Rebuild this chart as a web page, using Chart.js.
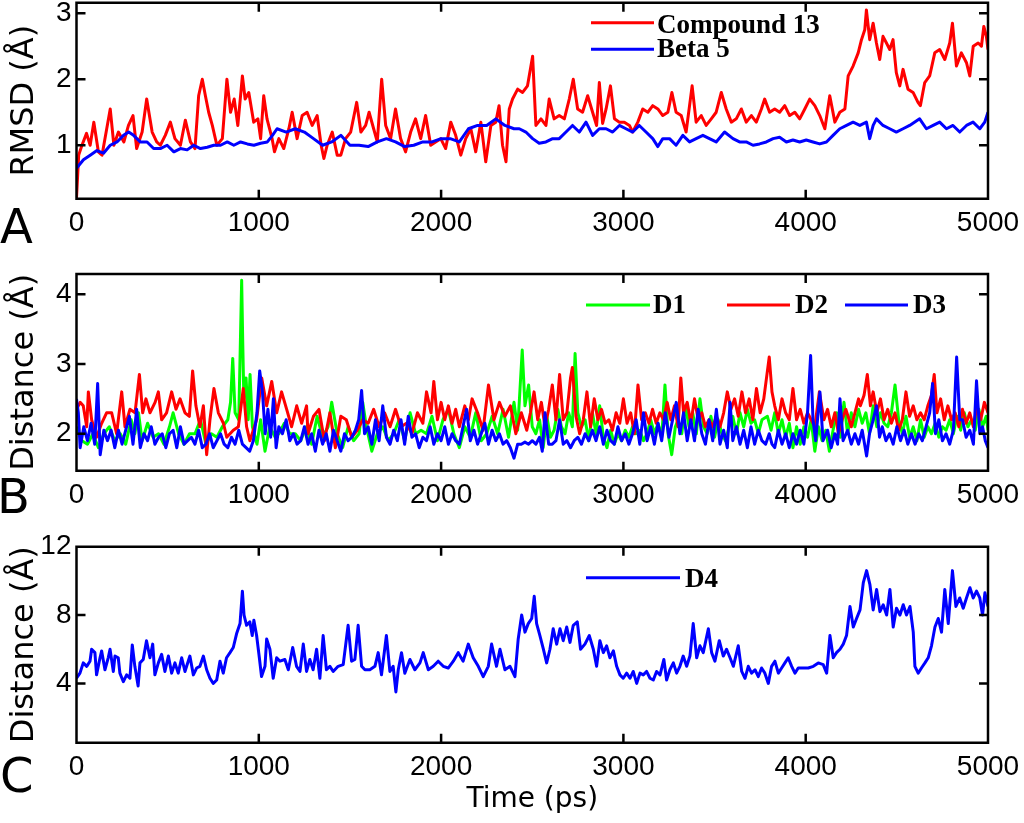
<!DOCTYPE html>
<html lang="en">

<head>
    <meta charset="UTF-8">
    <title>RMSD e distâncias</title>
    <script src="https://cdn.jsdelivr.net/npm/chart.js"></script>
    <style>
        body {
            margin: 0;
            background: #fff;
        }

        .janela {
            position: relative;
            width: 1024px;
            height: 823px;
            overflow: hidden;
        }

        .janela canvas {
            position: absolute;
            left: 0;
        }

        .letra {
            position: absolute;
            font-family: "DejaVu Sans", sans-serif;
            font-size: 48px;
            line-height: 48px;
            color: #000;
        }
    </style>
</head>

<body>

    <div class="janela">
        <canvas id="graficoA" width="1024" height="250" style="top: 0px;"></canvas>
        <canvas id="graficoB" width="1024" height="280" style="top: 250px;"></canvas>
        <canvas id="graficoC" width="1024" height="293" style="top: 530px;"></canvas>

        <div class="letra" style="left: 0px; top: 202px;">A</div>
        <div class="letra" style="left: -3px; top: 472px;">B</div>
        <div class="letra" style="left: 0px; top: 751px;">C</div>
    </div>

</body>

<script>

    // eixos
    const ticksTempo = [0, 1000, 2000, 3000, 4000, 5000];
    const ticksRmsd = [1, 2, 3];
    const ticksDistB = [2, 3, 4];
    const ticksDistC = [4, 8, 12];

    // painel A - RMSD
    const tempoComposto = [
        0, 12, 30, 55, 75, 95, 120, 140, 185, 205, 230, 260, 285, 310, 330, 360, 385, 415, 440, 460, 487,
        515, 540, 570, 597, 625, 650, 670, 690, 707, 725, 745, 770, 800, 825, 845, 865, 885, 910, 925, 945, 972, 995,
        1010, 1027, 1045, 1073, 1086, 1110, 1137, 1165, 1183, 1210, 1238, 1265, 1293, 1320, 1342, 1357, 1375, 1403, 1430, 1450, 1476,
        1504, 1537, 1560, 1586, 1605, 1630, 1650, 1674, 1696, 1723, 1750, 1778, 1805, 1833, 1860, 1888, 1915, 1943, 1970, 1998,
        2025, 2053, 2080, 2108, 2135, 2163, 2190, 2218, 2245, 2273, 2300, 2318, 2337, 2356, 2374, 2392, 2420, 2447, 2474,
        2502, 2520, 2548, 2575, 2593, 2620, 2648, 2676, 2703, 2725, 2749, 2776, 2804, 2831, 2853, 2868, 2886, 2905, 2929, 2951, 2978,
        3005, 3033, 3051, 3079, 3106, 3134, 3161, 3189, 3216, 3244, 3266, 3289, 3317, 3344, 3377, 3399, 3427, 3454, 3482,
        3509, 3537, 3564, 3592, 3619, 3647, 3674, 3702, 3729, 3757, 3775, 3802, 3830, 3857, 3885, 3912, 3940, 3967, 3995,
        4022, 4050, 4077, 4105, 4132, 4160, 4187, 4215, 4233, 4260, 4288, 4306, 4324, 4333, 4351, 4370, 4388, 4406, 4424, 4443, 4461, 4479, 4497,
        4516, 4534, 4561, 4589, 4616, 4629, 4653, 4680, 4708, 4735, 4763, 4790, 4805, 4827, 4854, 4882, 4900, 4919, 4946, 4964, 4977, 4991, 5000
    ];
    const rmsdComposto = [
        0.2, 0.85, 1.0, 1.18, 1.0, 1.35, 0.9, 0.85, 1.55, 1.0, 1.2, 1.05, 1.3, 1.45, 0.95, 1.2, 1.7, 1.2, 1.05, 1.0, 1.15,
        1.35, 1.1, 1.0, 1.38, 1.05, 0.95, 1.75, 2.0, 1.75, 1.5, 1.3, 1.0, 1.1, 2.0, 1.5, 1.7, 1.3, 2.05, 1.7, 1.8, 1.35, 1.4,
        1.1, 1.75, 1.4, 1.1, 0.9, 1.1, 0.95, 1.25, 1.5, 1.1, 1.45, 1.5, 1.3, 1.45, 1.0, 0.8, 1.0, 1.2, 0.85, 0.85, 1.1,
        1.2, 1.65, 1.2, 1.3, 1.5, 1.25, 1.05, 2.0, 1.3, 1.1, 1.55, 1.1, 0.9, 1.2, 1.4, 1.1, 1.45, 1.0, 1.05, 1.1,
        0.95, 1.35, 1.15, 0.85, 1.1, 1.25, 0.9, 1.35, 0.75, 1.3, 1.35, 1.6, 1.0, 0.75, 1.55, 1.7, 1.85, 1.8, 1.9,
        2.35, 1.3, 1.4, 1.3, 1.7, 1.4, 1.45, 1.4, 1.7, 2.0, 1.55, 1.5, 1.75, 1.5, 1.3, 1.95, 1.33, 1.55, 1.9, 1.4, 1.35,
        1.35, 1.3, 1.2, 1.35, 1.55, 1.5, 1.6, 1.55, 1.45, 1.5, 1.8, 1.5, 1.45, 1.2, 1.9, 1.35, 1.45, 1.3, 1.4,
        1.5, 1.8, 1.55, 1.35, 1.4, 1.55, 1.35, 1.45, 1.35, 1.55, 1.7, 1.5, 1.55, 1.5, 1.6, 1.45, 1.5, 1.4, 1.55,
        1.7, 1.6, 1.45, 1.25, 1.75, 1.35, 1.5, 1.55, 2.05, 2.2, 2.4, 2.6, 2.75, 3.05, 2.6, 2.85, 2.55, 2.3, 2.65, 2.55, 2.45, 2.6, 2.1,
        1.9, 2.15, 1.85, 1.8, 1.65, 1.6, 1.95, 2.05, 2.4, 2.45, 2.3, 2.55, 2.85, 2.2, 2.4, 2.25, 2.05, 2.5, 2.55, 2.5, 2.8, 2.65, 2.45
    ];

    const tempoBeta = [
        0, 38, 75, 112, 148, 185, 222, 258, 286, 313, 350, 387, 423, 460, 497,
        534, 570, 607, 643, 680, 717, 753, 790, 827, 863, 900, 937, 973,
        1010, 1047, 1075, 1100, 1150, 1200, 1250, 1300, 1350, 1400, 1450, 1500,
        1550, 1600, 1650, 1700, 1750, 1800, 1850, 1900, 1950, 2000,
        2050, 2100, 2150, 2200, 2250, 2300, 2350, 2400, 2429, 2465,
        2502, 2538, 2575, 2612, 2648, 2685, 2721, 2758, 2795, 2831, 2868, 2905, 2941, 2978,
        3014, 3051, 3087, 3124, 3161, 3189, 3216, 3253, 3289, 3326, 3363, 3399, 3436, 3472,
        3509, 3555, 3601, 3637, 3674, 3711, 3747, 3784, 3821, 3857, 3894, 3930, 3967,
        4003, 4040, 4077, 4114, 4150, 4187, 4224, 4260, 4297, 4333, 4351, 4370, 4388, 4424, 4461, 4497,
        4534, 4570, 4625, 4662, 4699, 4735, 4772, 4808, 4845, 4882, 4918, 4955, 4982, 5000
    ];
    const rmsdBeta = [
        0.65, 0.78, 0.85, 0.92, 0.88, 1.0, 1.05, 1.15, 1.2, 1.15, 1.05, 1.05, 0.95, 0.95, 1.0,
        0.9, 0.95, 0.93, 1.0, 0.95, 0.97, 1.0, 1.0, 1.05, 1.0, 1.05, 1.02, 1.0,
        1.03, 1.05, 1.15, 1.25, 1.2, 1.25, 1.2, 1.1, 1.0, 1.05, 1.15, 1.0,
        1.0, 0.98, 1.05, 1.1, 1.05, 0.98, 1.0, 1.05, 1.05, 1.1,
        1.1, 1.05, 1.25, 1.3, 1.3, 1.4, 1.3, 1.25, 1.25, 1.2,
        1.1, 1.03, 1.05, 1.1, 1.1, 1.2, 1.3, 1.2, 1.35, 1.15, 1.25, 1.25, 1.2, 1.3,
        1.25, 1.2, 1.3, 1.2, 1.1, 0.98, 1.1, 1.1, 1.0, 1.15, 1.05, 1.1, 1.15, 1.1,
        1.05, 1.2, 1.1, 1.05, 1.05, 1.0, 1.02, 1.05, 1.1, 1.12, 1.05, 1.08, 1.05,
        1.08, 1.05, 1.02, 1.05, 1.15, 1.25, 1.3, 1.35, 1.3, 1.35, 1.1, 1.3, 1.4, 1.3, 1.25, 1.2,
        1.25, 1.3, 1.4, 1.25, 1.3, 1.35, 1.25, 1.3, 1.2, 1.3, 1.35, 1.25, 1.35, 1.5
    ];

    // painel B - distâncias D1, D2, D3
    const tempoD1 = [
        0, 30, 60, 90, 120, 150, 180, 210, 240, 270, 300, 320, 340, 360, 390, 420, 450, 480,
        510, 530, 560, 590, 620, 650, 680, 710, 740, 770, 800, 830, 845, 857, 870, 890, 906, 912, 918, 930, 942, 952, 965, 990,
        1010, 1034, 1060, 1090, 1110, 1140, 1170, 1200, 1230, 1260, 1290, 1320, 1350, 1380, 1400, 1430, 1460, 1490,
        1520, 1550, 1570, 1590, 1620, 1650, 1680, 1710, 1740, 1770, 1800, 1830, 1860, 1890, 1920, 1950, 1980,
        2010, 2040, 2070, 2100, 2130, 2160, 2190, 2220, 2250, 2280, 2310, 2340, 2370, 2400, 2420, 2445, 2460, 2480,
        2500, 2520, 2540, 2560, 2580, 2600, 2620, 2640, 2660, 2680, 2700, 2720, 2735, 2750, 2770, 2790, 2810, 2830, 2850, 2870, 2890, 2910, 2930, 2950, 2970, 2990,
        3010, 3030, 3050, 3070, 3090, 3110, 3130, 3150, 3170, 3190, 3210, 3228, 3245, 3265, 3285, 3300, 3320, 3340, 3360, 3380, 3400, 3420, 3440, 3460, 3480,
        3500, 3520, 3540, 3560, 3580, 3600, 3620, 3640, 3660, 3680, 3700, 3720, 3740, 3760, 3790, 3810, 3830, 3850, 3870, 3890, 3910, 3930, 3950, 3970, 3990,
        4010, 4030, 4050, 4070, 4090, 4110, 4130, 4150, 4170, 4190, 4210, 4230, 4250, 4270, 4290, 4310, 4330, 4350, 4370, 4390, 4410, 4430, 4450, 4470, 4490,
        4510, 4530, 4550, 4570, 4590, 4610, 4630, 4650, 4670, 4690, 4710, 4730, 4750, 4770, 4790, 4810, 4830, 4850, 4870, 4890, 4910, 4930, 4950, 4970, 4990, 5000
    ];
    const distD1 = [
        2.1, 1.9, 1.85, 2.0, 1.8, 2.0, 2.1, 1.9, 2.0, 1.85, 2.2, 2.0, 2.3, 1.9, 2.15, 1.95, 2.0, 1.85,
        2.1, 2.3, 2.0, 1.85, 2.0, 2.0, 2.2, 1.85, 2.0, 1.95, 2.1, 2.2, 2.45, 3.08, 2.3, 2.2, 4.2, 3.3, 2.5, 2.8, 2.2, 2.85, 2.1, 1.85,
        2.2, 1.75, 2.1, 1.95, 2.0, 2.15, 2.0, 2.0, 1.9, 2.1, 1.85, 2.25, 1.95, 2.1, 2.45, 2.0, 1.8, 2.1,
        1.9, 2.0, 2.45, 2.1, 1.75, 2.0, 2.1, 1.9, 2.0, 2.2, 1.9, 2.3, 2.0, 2.05, 2.0, 2.25, 1.9,
        2.2, 2.35, 2.0, 1.8, 2.1, 1.95, 2.3, 1.9, 2.0, 2.25, 2.0, 2.35, 1.95, 2.45, 2.05, 3.2, 2.4, 2.7,
        2.1, 2.0, 2.2, 1.8, 2.25, 1.95, 2.05, 2.35, 2.1, 2.0, 2.3, 2.1, 3.15, 2.3, 2.1, 2.2, 1.9, 2.3, 2.0, 2.4, 1.95, 1.8, 2.05, 1.85, 2.0, 1.9,
        2.05, 1.95, 2.1, 2.0, 2.05, 1.9, 2.0, 2.2, 2.0, 2.15, 1.95, 2.7, 2.0, 1.7, 2.1, 2.2, 2.0, 2.4, 2.1, 2.3, 2.0, 2.5, 2.1, 2.0, 2.25,
        1.95, 2.2, 2.0, 1.9, 2.1, 2.25, 2.0, 2.3, 2.1, 2.35, 2.15, 2.2, 2.0, 2.2, 2.25, 2.05, 2.3, 2.0, 2.2, 1.95, 2.15, 1.8, 2.1, 1.85, 2.1,
        1.95, 2.2, 1.75, 2.1, 1.9, 2.05, 1.75, 2.05, 2.3, 1.95, 2.45, 2.0, 2.3, 2.1, 2.35, 2.15, 2.3, 2.0, 2.4, 2.1, 2.3, 2.15, 2.1, 2.3, 2.7,
        2.2, 2.0, 2.25, 1.95, 2.1, 1.9, 2.2, 1.95, 2.1, 2.0, 2.15, 1.95, 2.1, 2.05, 2.2, 2.0, 2.25, 2.05, 2.3, 2.1, 2.2, 2.05, 2.35, 2.1, 2.25, 2.05
    ];

    const tempoD2 = [
        0, 20, 37, 56, 65, 83, 110, 138, 165, 193, 220, 248, 266, 293, 321, 345, 363, 381, 403, 431, 449, 467, 494,
        522, 546, 568, 595, 619, 637, 655, 677, 696, 714, 732, 754, 778, 806, 824, 860, 888, 915, 933, 951, 988,
        1016, 1043, 1071, 1098, 1125, 1153, 1180, 1208, 1235, 1262, 1270, 1300, 1330, 1360, 1390, 1420, 1450, 1480,
        1510, 1540, 1570, 1600, 1630, 1660, 1690, 1720, 1750, 1780, 1810, 1840, 1870, 1900, 1920, 1945, 1960, 1980,
        2000, 2020, 2040, 2060, 2080, 2100, 2130, 2150, 2170, 2200, 2230, 2260, 2290, 2320, 2350, 2380, 2410, 2440, 2470,
        2490, 2510, 2530, 2550, 2570, 2590, 2610, 2630, 2650, 2670, 2690, 2710, 2720, 2740, 2760, 2780, 2800, 2820, 2840, 2860, 2880, 2900, 2920, 2940, 2960, 2980,
        3000, 3020, 3040, 3060, 3080, 3100, 3120, 3140, 3160, 3180, 3200, 3220, 3240, 3260, 3280, 3300, 3315, 3330, 3350, 3370, 3390, 3410, 3430, 3450, 3470, 3490,
        3510, 3530, 3550, 3570, 3590, 3610, 3630, 3650, 3670, 3690, 3710, 3730, 3750, 3770, 3785, 3800, 3815, 3830, 3850, 3870, 3890, 3910, 3930, 3950, 3970, 3990,
        4010, 4030, 4050, 4075, 4100, 4120, 4140, 4160, 4180, 4200, 4220, 4250, 4270, 4290, 4300, 4320, 4338, 4355, 4370, 4390, 4410, 4430, 4450, 4470, 4490,
        4510, 4530, 4550, 4570, 4590, 4610, 4630, 4650, 4670, 4690, 4705, 4720, 4740, 4760, 4780, 4800, 4820, 4840, 4860, 4880, 4900, 4920, 4940, 4960, 4980, 5000
    ];
    const distD2 = [
        2.35, 2.45, 2.4, 2.1, 2.6, 2.2, 1.95, 2.15, 2.3, 2.3, 2.0, 2.6, 2.1, 2.35, 2.3, 2.85, 2.3, 2.5, 2.3, 2.45, 2.6, 2.2, 2.3,
        2.6, 2.35, 2.5, 2.3, 2.25, 2.9, 2.4, 2.1, 2.4, 1.7, 2.2, 2.65, 2.3, 2.15, 1.95, 2.05, 2.1, 2.65, 2.1, 1.9, 2.2,
        2.8, 2.4, 2.75, 2.3, 2.6, 2.35, 2.1, 2.4, 2.15, 2.4, 2.0, 2.25, 2.35, 1.9, 2.3, 1.8, 2.25, 2.2,
        1.95, 2.05, 2.2, 2.15, 2.35, 2.1, 2.3, 2.1, 2.35, 2.1, 2.15, 2.0, 2.3, 2.15, 2.6, 2.3, 2.75, 2.2,
        2.45, 2.2, 2.4, 2.15, 2.35, 2.1, 2.4, 2.2, 2.5, 2.3, 2.05, 2.7, 2.2, 2.45, 2.25, 2.4, 2.0, 2.3, 2.05,
        2.3, 2.6, 2.2, 2.45, 2.1, 2.35, 2.7, 2.2, 2.85, 2.2, 2.3, 2.8, 2.95, 2.25, 2.0, 2.2, 2.6, 2.1, 2.5, 2.2, 2.35, 2.15, 2.2, 2.05, 2.3, 2.15,
        2.5, 2.15, 2.3, 2.0, 2.7, 2.2, 2.3, 2.15, 2.35, 2.15, 2.3, 2.2, 2.45, 2.2, 2.4, 2.1, 2.8, 2.3, 2.45, 2.15, 2.5, 2.2, 2.3, 2.1, 2.2, 2.1,
        2.25, 2.1, 2.3, 2.6, 2.35, 2.5, 2.25, 2.6, 2.3, 2.5, 2.2, 2.65, 2.3, 2.5, 2.8, 3.1, 2.6, 2.4, 2.2, 2.5, 2.3, 2.2, 2.65, 2.2, 2.35, 2.15,
        2.3, 2.2, 2.1, 2.6, 2.2, 2.35, 2.1, 2.3, 2.0, 2.2, 2.35, 2.1, 2.3, 2.5, 2.4, 2.55, 2.85, 2.4, 2.6, 2.3, 2.5, 2.2, 2.35, 2.15, 2.3,
        2.05, 2.2, 2.6, 2.25, 2.4, 2.2, 2.3, 2.2, 2.4, 2.55, 2.85, 2.3, 2.5, 2.2, 2.4, 2.2, 2.3, 2.1, 2.35, 2.15, 2.3, 2.1, 2.4, 2.2, 2.45, 2.3
    ];

    const tempoD3 = [
        0, 10, 20, 40, 60, 80, 100, 116, 130, 150, 170, 190, 210, 230, 250, 270, 290, 310, 330, 350, 370, 390, 410, 430, 450, 470, 490,
        510, 530, 550, 570, 590, 610, 630, 650, 670, 690, 710, 730, 750, 770, 790, 810, 830, 850, 870, 890, 910, 930, 950, 970, 990,
        1005, 1020, 1035, 1050, 1065, 1080, 1095, 1110, 1130, 1150, 1170, 1190, 1210, 1230, 1250, 1270, 1290, 1310, 1330, 1350, 1370, 1390, 1410, 1430, 1450, 1470, 1490,
        1510, 1530, 1548, 1564, 1580, 1600, 1620, 1640, 1660, 1680, 1700, 1720, 1740, 1760, 1780, 1800, 1820, 1840, 1860, 1880, 1900, 1920, 1940, 1960, 1980,
        2000, 2020, 2040, 2060, 2080, 2100, 2120, 2140, 2160, 2180, 2200, 2220, 2240, 2260, 2280, 2300, 2320, 2340, 2360, 2380, 2400, 2420, 2440, 2460, 2480,
        2500, 2520, 2540, 2555, 2570, 2590, 2610, 2630, 2650, 2670, 2690, 2710, 2730, 2750, 2770, 2790, 2810, 2830, 2850, 2870, 2890, 2910, 2930, 2950, 2970, 2990,
        3010, 3030, 3050, 3070, 3090, 3110, 3130, 3150, 3170, 3190, 3210, 3230, 3250, 3270, 3290, 3310, 3330, 3350, 3370, 3390, 3410, 3430, 3450, 3470, 3490,
        3510, 3530, 3550, 3570, 3585, 3600, 3620, 3640, 3660, 3680, 3700, 3720, 3740, 3760, 3780, 3800, 3815, 3830, 3850, 3870, 3890, 3910, 3930, 3950, 3970, 3990,
        4010, 4027, 4040, 4055, 4078, 4095, 4120, 4140, 4160, 4175, 4188, 4205, 4230, 4250, 4270, 4290, 4310, 4334, 4350, 4370, 4389, 4405, 4420, 4440, 4460, 4480,
        4500, 4520, 4540, 4560, 4580, 4600, 4620, 4640, 4660, 4680, 4696, 4712, 4730, 4750, 4770, 4790, 4810, 4828, 4845, 4860, 4880, 4900, 4920, 4937, 4955, 4970, 4985, 5000
    ];
    const distD3 = [
        2.5, 2.3, 1.8, 2.1, 1.9, 2.15, 1.85, 2.72, 1.7, 2.05, 1.9, 2.05, 1.8, 2.05, 1.85, 2.05, 2.25, 1.85, 2.35, 1.8, 2.0, 1.9, 2.1, 1.85, 1.95, 2.0, 1.8,
        2.0, 2.05, 1.8, 2.1, 1.85, 1.9, 1.95, 1.85, 2.05, 1.8, 1.85, 2.0, 1.8, 1.9, 2.0, 1.85, 1.8, 1.95, 1.85, 2.05, 1.85, 1.8, 1.75, 1.9, 2.3,
        2.9, 2.6, 2.0, 2.35, 1.95, 2.5, 1.8, 2.1, 2.0, 2.2, 1.9, 2.0, 1.85, 1.9, 2.1, 1.85, 2.0, 1.75, 2.05, 1.85, 2.0, 1.75, 2.05, 1.9, 1.75, 2.0, 1.9,
        1.95, 2.05, 2.2, 2.62, 2.0, 2.1, 1.85, 2.2, 1.9, 2.4, 1.95, 1.85, 2.05, 1.9, 2.2, 1.85, 2.25, 1.95, 2.0, 1.8, 1.95, 1.9, 2.1, 1.85, 2.0,
        1.9, 2.1, 1.85, 2.0, 1.9, 1.85, 2.1, 2.35, 1.9, 2.05, 1.85, 2.0, 2.15, 1.85, 2.05, 1.9, 2.0, 1.85, 1.9, 1.8, 1.65, 1.85, 1.85, 1.88, 1.85,
        1.9, 1.85, 1.95, 1.75, 2.3, 1.85, 1.85, 1.9, 2.2, 1.85, 1.9, 1.8, 1.9, 1.95, 1.85, 2.0, 1.9, 2.05, 1.9, 2.1, 1.85, 2.05, 1.9, 1.85, 2.1, 1.9,
        2.0, 1.85, 2.0, 2.2, 1.85, 2.3, 1.9, 2.1, 1.85, 2.15, 1.9, 2.3, 1.95, 2.2, 2.45, 2.0, 2.3, 1.9, 2.2, 1.9, 2.35, 2.0, 1.85, 2.2, 1.9,
        2.35, 1.85, 2.05, 1.8, 2.45, 1.9, 2.1, 1.85, 2.05, 1.8, 2.1, 1.85, 2.05, 1.9, 1.85, 2.0, 1.85, 1.8, 2.05, 1.85, 2.0, 1.8, 2.0, 1.85, 2.05, 1.85,
        2.3, 3.12, 2.2, 1.9, 2.6, 1.9, 2.05, 1.8, 2.0, 1.85, 2.5, 1.9, 2.05, 1.85, 2.0, 1.85, 2.05, 1.68, 2.0, 2.2, 2.4, 1.95, 2.1, 1.9, 2.0, 1.85,
        2.1, 1.9, 2.05, 1.85, 2.0, 1.85, 2.0, 1.9, 2.1, 2.3, 2.72, 2.0, 2.2, 1.9, 2.0, 1.85, 2.05, 3.1, 2.2, 2.2, 1.95, 2.05, 1.85, 2.76, 2.0, 2.1, 1.9, 1.8
    ];

    // painel C - distância D4
    const tempoD4 = [
        0, 19, 37, 56, 74, 83, 101, 110, 129, 138, 156, 174, 184, 202, 211, 229, 238, 257, 275, 293, 306, 320, 338, 348, 366, 384, 403, 418, 430, 449, 467, 485,
        504, 522, 540, 558, 577, 595, 622, 641, 659, 677, 696, 714, 732, 750, 769, 787, 805, 823, 842, 860, 878, 897, 910, 919, 933, 951, 964, 973, 988,
        1003, 1015, 1034, 1043, 1061, 1079, 1098, 1116, 1143, 1162, 1186, 1207, 1226, 1244, 1262, 1280, 1298, 1317, 1335, 1353, 1371, 1390, 1408, 1435, 1463, 1490,
        1509, 1527, 1545, 1564, 1582, 1609, 1637, 1655, 1673, 1700, 1719, 1737, 1752, 1765, 1783, 1801, 1829, 1856, 1884, 1902, 1930, 1957, 1984,
        2012, 2039, 2067, 2094, 2121, 2149, 2176, 2204, 2231, 2259, 2277, 2304, 2323, 2350, 2378, 2405, 2423, 2442, 2460, 2478, 2497,
        2511, 2524, 2542, 2561, 2579, 2597, 2615, 2634, 2652, 2670, 2689, 2707, 2725, 2747, 2765, 2789, 2813, 2835, 2853, 2871, 2890, 2908, 2926, 2945, 2963, 2981,
        2999, 3018, 3036, 3054, 3073, 3091, 3109, 3127, 3146, 3164, 3182, 3201, 3222, 3237, 3255, 3274, 3292, 3310, 3328, 3347, 3365, 3383, 3402, 3420, 3438, 3466, 3484,
        3502, 3526, 3548, 3566, 3585, 3603, 3630, 3649, 3667, 3685, 3703, 3722, 3740, 3758, 3776, 3795, 3813, 3831, 3850, 3868, 3886, 3904, 3923, 3941, 3959, 3987,
        4014, 4042, 4069, 4096, 4115, 4133, 4151, 4169, 4188, 4206, 4224, 4243, 4261, 4279, 4298, 4316, 4334, 4352, 4370, 4389, 4407, 4425, 4444, 4462, 4480, 4498,
        4517, 4535, 4553, 4572, 4590, 4599, 4617, 4635, 4654, 4672, 4690, 4709, 4727, 4745, 4763, 4782, 4805, 4824, 4845, 4864, 4882, 4901, 4919, 4937, 4955, 4970, 4983, 5000
    ];
    const distD4 = [
        4.3, 4.6, 5.2, 5.0, 5.3, 6.0, 5.8, 4.5, 5.5, 5.9, 4.8, 5.5, 6.0, 4.7, 5.6, 5.5, 4.6, 4.1, 4.5, 4.3, 6.25, 5.0, 3.85, 5.2, 5.4, 6.5, 5.5, 6.3, 4.5, 5.2, 5.7, 4.7,
        5.6, 4.6, 5.2, 4.6, 5.5, 4.7, 5.6, 4.5, 4.9, 5.0, 5.6, 4.8, 4.3, 4.0, 4.2, 5.3, 4.6, 5.5, 5.8, 6.1, 6.9, 7.5, 9.4, 8.0, 7.4, 7.6, 6.8, 7.7, 6.8,
        5.5, 4.4, 5.0, 6.6, 6.0, 4.3, 5.5, 5.3, 5.4, 4.8, 6.1, 5.0, 4.7, 6.3, 4.7, 5.4, 4.8, 6.0, 4.3, 6.8, 4.8, 5.0, 4.7, 5.0, 5.1, 7.4,
        5.3, 5.4, 7.4, 5.0, 4.8, 4.8, 5.0, 5.8, 4.5, 6.8, 4.7, 5.0, 3.5, 4.8, 5.8, 4.6, 5.4, 4.8, 5.2, 5.8, 4.8, 5.0, 5.3,
        5.0, 4.9, 5.3, 5.8, 5.3, 6.3, 5.5, 5.0, 4.4, 5.0, 6.3, 5.0, 6.0, 4.8, 5.0, 4.4, 6.6, 8.0, 7.0, 7.5, 7.8,
        9.1, 7.5, 6.8, 6.0, 5.2, 6.0, 7.2, 6.3, 7.2, 6.5, 7.3, 6.4, 7.4, 7.6, 6.0, 6.3, 6.8, 6.0, 5.0, 6.5, 5.8, 6.2, 5.5, 5.9, 5.0, 4.5,
        4.3, 4.6, 4.3, 4.7, 4.0, 4.6, 4.5, 4.7, 4.3, 4.2, 4.7, 4.5, 5.4, 4.2, 4.8, 5.2, 4.6, 5.0, 5.6, 5.0, 5.6, 7.5, 5.5, 6.2, 5.8, 7.2, 5.8,
        5.3, 6.5, 5.6, 6.0, 5.5, 5.0, 6.2, 4.7, 4.3, 5.0, 4.6, 4.8, 4.4, 4.9, 4.6, 4.0, 5.0, 5.3, 4.6, 4.9, 5.2, 5.5, 5.0, 4.6, 4.9, 4.9,
        4.9, 5.0, 5.2, 5.1, 4.6, 6.8, 5.5, 5.8, 6.0, 6.3, 6.8, 8.5, 7.3, 7.8, 8.3, 9.9, 10.6, 9.8, 8.3, 9.5, 8.2, 8.6, 8.0, 9.5, 7.3, 8.4,
        8.0, 8.6, 8.0, 8.5, 7.0, 5.0, 4.6, 4.9, 5.2, 5.5, 6.2, 7.3, 7.8, 7.0, 9.5, 7.5, 10.6, 8.5, 9.0, 8.4, 9.0, 9.6, 9.0, 9.4, 9.0, 8.0, 9.3, 8.5
    ];

    const fonteTicks = { family: '"Liberation Sans", Arial, sans-serif', size: 28 };
    const fonteTitulo = '"DejaVu Sans", sans-serif';

    function pontos(tempos, valores) {
        return tempos.map((t, i) => ({ x: t, y: valores[i] }));
    }

    // moldura estilo matlab: caixa, ticks para dentro e legenda sem borda
    const moldura = {
        id: 'moldura',
        afterDatasetsDraw(chart, args, opts) {
            const ctx = chart.ctx;
            const a = chart.chartArea;
            const x = chart.scales.x;
            const y = chart.scales.y;

            ctx.save();
            ctx.strokeStyle = '#000';
            ctx.lineWidth = 2.5;
            ctx.beginPath();
            ctx.rect(a.left, a.top, a.right - a.left, a.bottom - a.top);
            x.ticks.forEach(t => {
                const px = x.getPixelForValue(t.value);
                ctx.moveTo(px, a.bottom);
                ctx.lineTo(px, a.bottom - 9);
                ctx.moveTo(px, a.top);
                ctx.lineTo(px, a.top + 9);
            });
            y.ticks.forEach(t => {
                const py = y.getPixelForValue(t.value);
                ctx.moveTo(a.left, py);
                ctx.lineTo(a.left + 9, py);
                ctx.moveTo(a.right, py);
                ctx.lineTo(a.right - 9, py);
            });
            ctx.stroke();

            ctx.font = 'bold 27px "Liberation Serif", "Times New Roman", serif';
            ctx.textBaseline = 'alphabetic';
            ctx.textAlign = 'left';
            (opts.itens || []).forEach(item => {
                const ds = chart.data.datasets[item.indice];
                ctx.strokeStyle = ds.borderColor;
                ctx.lineWidth = 3;
                ctx.beginPath();
                ctx.moveTo(item.x0, item.yLinha);
                ctx.lineTo(item.x1, item.yLinha);
                ctx.stroke();
                ctx.fillStyle = '#000';
                ctx.fillText(ds.label, item.xTexto, item.yTexto);
            });
            ctx.restore();
        }
    };

    function criarGrafico(id, datasets, cfg) {
        const eixoX = {
            type: 'linear',
            min: 0,
            max: 5000,
            afterBuildTicks: s => { s.ticks = ticksTempo.map(v => ({ value: v })); },
            afterFit: s => {
                s.height = cfg.alturaX;
                s.paddingLeft = 0;
                s.paddingRight = 0;
            },
            grid: { display: false, drawTicks: false },
            border: { display: false },
            ticks: {
                color: '#000',
                font: fonteTicks,
                padding: 8,
                maxRotation: 0,
                autoSkip: false,
                callback: v => String(v)
            }
        };
        if (cfg.tituloX) {
            eixoX.title = {
                display: true,
                text: cfg.tituloX,
                color: '#000',
                font: { family: fonteTitulo, size: 28 },
                padding: { top: 0, bottom: 6 }
            };
        }

        new Chart(document.getElementById(id), {
            type: 'line',
            data: { datasets: datasets },
            options: {
                responsive: false,
                animation: false,
                events: [],
                layout: {
                    autoPadding: false,
                    padding: { left: 0, right: 36, top: cfg.topo, bottom: 0 }
                },
                elements: {
                    point: { radius: 0 },
                    line: { borderWidth: 3, tension: 0, borderJoinStyle: 'round' }
                },
                plugins: {
                    legend: { display: false },
                    tooltip: { enabled: false },
                    moldura: { itens: cfg.legenda }
                },
                scales: {
                    x: eixoX,
                    y: {
                        type: 'linear',
                        min: cfg.yMin,
                        max: cfg.yMax,
                        afterBuildTicks: s => { s.ticks = cfg.yTicks.map(v => ({ value: v })); },
                        afterFit: s => {
                            s.width = 76.5;
                            s.paddingTop = 0;
                            s.paddingBottom = 0;
                        },
                        grid: { display: false, drawTicks: false },
                        border: { display: false },
                        ticks: { color: '#000', font: fonteTicks, padding: 5, callback: v => String(v) },
                        title: {
                            display: true,
                            text: cfg.yTitulo,
                            color: '#000',
                            font: { family: fonteTitulo, size: 32 },
                            padding: { top: 5, bottom: 0 }
                        }
                    }
                }
            },
            plugins: [moldura]
        });
    }

    criarGrafico('graficoA', [
        { label: 'Compound 13', data: pontos(tempoComposto, rmsdComposto), borderColor: '#ff0000', order: 2 },
        { label: 'Beta 5', data: pontos(tempoBeta, rmsdBeta), borderColor: '#0000ff', order: 1 }
    ], {
        topo: 2.7, alturaX: 51.3, yMin: 0.19, yMax: 3.16, yTicks: ticksRmsd, yTitulo: 'RMSD (Å)',
        legenda: [
            { indice: 0, x0: 591, x1: 654, yLinha: 22.7, xTexto: 657, yTexto: 33.3 },
            { indice: 1, x0: 591, x1: 654, yLinha: 49.3, xTexto: 657, yTexto: 57 }
        ]
    });

    criarGrafico('graficoB', [
        { label: 'D1', data: pontos(tempoD1, distD1), borderColor: '#00ff00', order: 3 },
        { label: 'D2', data: pontos(tempoD2, distD2), borderColor: '#ff0000', order: 2 },
        { label: 'D3', data: pontos(tempoD3, distD3), borderColor: '#0000ff', order: 1 }
    ], {
        topo: 24, alturaX: 59.3, yMin: 1.47, yMax: 4.29, yTicks: ticksDistB, yTitulo: 'Distance (Å)',
        legenda: [
            { indice: 0, x0: 586, x1: 650, yLinha: 55, xTexto: 653, yTexto: 63.3 },
            { indice: 1, x0: 727, x1: 790, yLinha: 55, xTexto: 795, yTexto: 63.3 },
            { indice: 2, x0: 845, x1: 908, yLinha: 55, xTexto: 913, yTexto: 63.3 }
        ]
    });

    criarGrafico('graficoC', [
        { label: 'D4', data: pontos(tempoD4, distD4), borderColor: '#0000ff', order: 1 }
    ], {
        topo: 16.7, alturaX: 80.3, yMin: 0.53, yMax: 12, yTicks: ticksDistC, yTitulo: 'Distance (Å)',
        tituloX: 'Time (ps)',
        legenda: [
            { indice: 0, x0: 586, x1: 680, yLinha: 47.7, xTexto: 685, yTexto: 57 }
        ]
    });
</script>

</html>
